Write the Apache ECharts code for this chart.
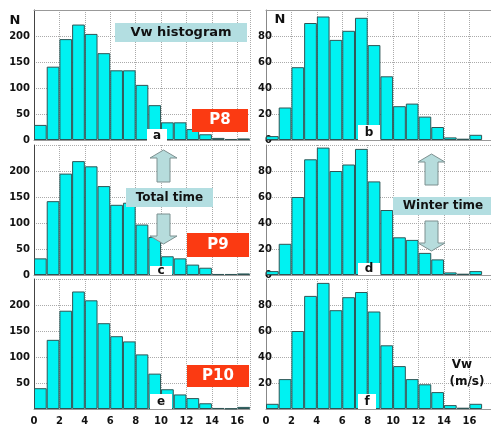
<!DOCTYPE html>
<html>
<head>
<meta charset="utf-8">
<script src="https://cdn.jsdelivr.net/npm/echarts@6/dist/echarts.min.js"></script>
<style>
    html, body { margin: 0; padding: 0; background: #fff; }
    #main { width: 491px; height: 426px; }
</style>
</head>
<body>
<div id="main"></div>
<script>
// left edge of each 1 m/s wind speed class
var bins = [0, 1, 2, 3, 4, 5, 6, 7, 8, 9, 10, 11, 12, 13, 14, 15, 16];

// counts N per class, total time (left) and winter time (right)
var p8Total   = [29, 141, 194, 222, 204, 167, 134, 134, 106, 67, 34, 34, 21, 11, 4, 2, 3];
var p8Winter  = [3, 25, 56, 90, 95, 77, 84, 94, 73, 49, 26, 28, 18, 10, 2, 1, 4];
var p9Total   = [32, 142, 195, 219, 209, 171, 135, 139, 97, 73, 36, 32, 20, 14, 2, 2, 3];
var p9Winter  = [3, 24, 60, 89, 98, 80, 85, 97, 72, 50, 29, 27, 17, 12, 2, 1, 3];
var p10Total  = [40, 133, 189, 226, 209, 165, 140, 130, 105, 68, 38, 28, 21, 11, 2, 1, 4];
var p10Winter = [4, 23, 60, 87, 97, 76, 86, 90, 75, 49, 33, 23, 19, 13, 3, 1, 4];

var myChart = echarts.init(document.getElementById('main'));

var boldFont = 'DejaVu Sans';

var panels = [
    { data: p8Total,   side: 'L', row: 0 },
    { data: p8Winter,  side: 'R', row: 0 },
    { data: p9Total,   side: 'L', row: 1 },
    { data: p9Winter,  side: 'R', row: 1 },
    { data: p10Total,  side: 'L', row: 2 },
    { data: p10Winter, side: 'R', row: 2 }
];
var rowTop = [10, 145, 279];

var grid = [], xAxis = [], yAxis = [], series = [];
panels.forEach(function (p, i) {
    var left = p.side === 'L';
    grid.push(left
        ? { left: 34, width: 216, top: rowTop[p.row], height: 130 }
        : { left: 266, right: 0, top: rowTop[p.row], height: 130 });
    xAxis.push({
        gridIndex: i,
        type: 'value',
        min: 0,
        max: left ? 17 : 17.7,
        interval: 2,
        axisLine: { show: true, onZero: false, lineStyle: { color: '#999' } },
        axisTick: { show: false },
        axisLabel: {
            show: p.row === 2,
            showMaxLabel: false,
            margin: 7,
            color: '#111',
            fontFamily: boldFont,
            fontWeight: 'bold',
            fontSize: 10
        },
        splitLine: { show: true, lineStyle: { type: 'dotted', color: '#aaa' } }
    });
    yAxis.push({
        gridIndex: i,
        type: 'value',
        min: 0,
        max: left ? 250 : 100,
        interval: left ? 50 : 20,
        axisLine: { show: true, lineStyle: { color: left ? '#444' : '#888' } },
        axisTick: { show: false },
        axisLabel: {
            showMaxLabel: false,
            showMinLabel: p.row < 2,
            margin: left ? 4 : -6,
            color: '#111',
            fontFamily: boldFont,
            fontWeight: 'bold',
            fontSize: 10
        },
        splitLine: { show: true, lineStyle: { type: 'dotted', color: '#aaa' } }
    });
    series.push({
        type: 'bar',
        xAxisIndex: i,
        yAxisIndex: i,
        barWidth: '100%',
        itemStyle: { color: '#00f2f2', borderColor: '#2f5555', borderWidth: 1 },
        data: bins.map(function (b, k) { return [b + 0.5, p.data[k]]; })
    });
});
// top frame line of the first row
[0, 1].forEach(function (i) {
    xAxis.push({
        gridIndex: i, type: 'value', position: 'top', min: 0, max: 17,
        axisLine: { show: true, onZero: false, lineStyle: { color: '#999' } },
        axisTick: { show: false }, axisLabel: { show: false }, splitLine: { show: false }
    });
});

function box(x, y, w, h, fill, label, color, size) {
    return [
        { type: 'rect', z: 10, shape: { x: x, y: y, width: w, height: h }, style: { fill: fill } },
        { type: 'text', z: 11, x: x + w / 2, y: y + h / 2,
          style: { text: label, fill: color, font: 'bold ' + size + 'px ' + boldFont,
                   align: 'center', verticalAlign: 'middle' } }
    ];
}
function label(x, y, text, size) {
    return { type: 'text', z: 11, x: x, y: y,
             style: { text: text, fill: '#111', font: 'bold ' + size + 'px ' + boldFont,
                      align: 'center', verticalAlign: 'middle' } };
}
function arrow(cx, top, bottom, up) {
    var hw = 13.5, sw = 6.5, head = 8;
    var pts = up
        ? [[cx, top], [cx + hw, top + head], [cx + sw, top + head], [cx + sw, bottom],
           [cx - sw, bottom], [cx - sw, top + head], [cx - hw, top + head]]
        : [[cx, bottom], [cx + hw, bottom - head], [cx + sw, bottom - head], [cx + sw, top],
           [cx - sw, top], [cx - sw, bottom - head], [cx - hw, bottom - head]];
    return { type: 'polygon', z: 10, shape: { points: pts },
             style: { fill: '#b6dcdc', stroke: '#7d9090', lineWidth: 1 } };
}

var teal = '#b3dee1', red = '#fb3a12';
var graphic = [].concat(
    box(115, 23, 132, 19, teal, 'Vw histogram', '#111', 13),
    box(192, 109, 56, 23, red, 'P8', '#fff', 15),
    box(147, 129, 20, 13, '#fff', 'a', '#111', 12),
    box(358, 125, 22, 15, '#fff', 'b', '#111', 12),
    [arrow(163.5, 150, 182, true), arrow(163.5, 214, 244, false)],
    box(126, 188, 87, 19, teal, 'Total time', '#111', 12),
    box(187, 233, 62, 24, red, 'P9', '#fff', 15),
    box(150, 266, 22, 9, '#fff', 'c', '#111', 12),
    [arrow(431.5, 154, 185, true), arrow(431.5, 221, 251, false)],
    box(393, 197, 100, 18, teal, 'Winter time', '#111', 12),
    box(358, 263, 22, 12, '#fff', 'd', '#111', 12),
    box(187, 365, 62, 22, red, 'P10', '#fff', 15),
    box(150, 394, 22, 15, '#fff', 'e', '#111', 12),
    box(358, 394, 18, 15, '#fff', 'f', '#111', 12),
    [label(15, 21, 'N', 13), label(280, 20, 'N', 13),
     label(462, 365, 'Vw', 12), label(467, 382, '(m/s)', 12)]
);

var option = {
    animation: false,
    backgroundColor: '#fff',
    grid: grid,
    xAxis: xAxis,
    yAxis: yAxis,
    series: series,
    graphic: graphic
};
myChart.setOption(option);
</script>
</body>
</html>
